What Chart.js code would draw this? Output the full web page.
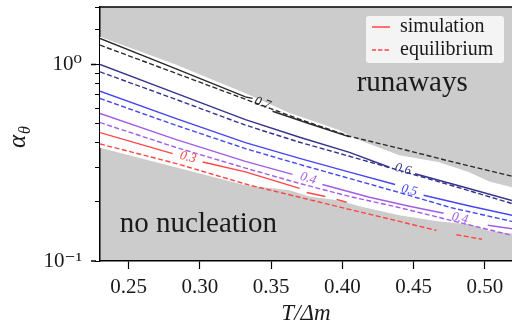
<!DOCTYPE html>
<html>
<head>
<meta charset="utf-8">
<style>
  html,body{margin:0;padding:0;background:#fff}
  #wrap{width:512px;height:330px;position:relative}
</style>
</head>
<body>
<div id="wrap"><canvas id="c"></canvas></div>
<script src="https://cdn.jsdelivr.net/npm/chart.js@4"></script>
<script>
// alpha_theta vs T/Dm : simulation (solid) vs equilibrium (dashed) contours

// white band = region where nucleation happens in the sims
const bandT   = [0.230, 0.283, 0.332, 0.363, 0.377, 0.398, 0.412, 0.440, 0.468, 0.489, 0.503, 0.519];
const bandTop = [1.382, 0.998, 0.714, 0.567, 0.523, 0.463, 0.411, 0.345, 0.318, 0.283, 0.254, 0.237];
const bandBot = [0.377, 0.300, 0.243, 0.229, 0.213, 0.203, 0.190, 0.171, 0.159, 0.154, 0.142, 0.138];

// equilibrium lines share one grid
const eqT   = [0.230, 0.283, 0.332, 0.370, 0.405, 0.440, 0.476, 0.519];
const eq07A = [1.254, 0.903, 0.665, 0.526, 0.431, 0.374, 0.321, 0.270];
const eq06A = [0.917, 0.665, 0.491, 0.402, 0.341, 0.289, 0.243, 0.196];
const eq05A = [0.671, 0.491, 0.373, 0.310, 0.263, 0.223, 0.187, 0.159];
const eq04A = [0.506, 0.379, 0.297, 0.248, 0.213, 0.187, 0.161, 0.135];
const eq03T = [0.230, 0.283, 0.335, 0.370, 0.405, 0.440, 0.466, null, 0.480, 0.498];
const eq03A = [0.394, 0.314, 0.243, 0.211, 0.183, 0.159, 0.143, null, 0.136, 0.129];

// simulation contours (null = break for label / missing piece)
const sim07T = [0.230, 0.283, 0.332, 0.337, null, 0.351, 0.377, 0.405];
const sim07A = [1.357, 0.952, 0.684, 0.672, null, 0.578, 0.499, 0.428];
const sim06T = [0.230, 0.283, 0.332, 0.370, 0.405, 0.433, null, 0.451, 0.483, 0.519];
const sim06A = [1.000, 0.714, 0.524, 0.426, 0.357, 0.300, null, 0.278, 0.240, 0.203];
const sim05T = [0.230, 0.283, 0.332, 0.370, 0.405, 0.437, null, 0.457, 0.490, 0.519];
const sim05A = [0.731, 0.532, 0.400, 0.333, 0.283, 0.245, null, 0.216, 0.190, 0.171];
const sim04T = [0.230, 0.283, 0.332, 0.365, null, 0.386, 0.419, 0.447, 0.471, null, 0.502, 0.519];
const sim04A = [0.563, 0.416, 0.321, 0.276, null, 0.245, 0.211, 0.190, 0.175, null, 0.152, 0.146];
const sim03T = [0.230, 0.281, null, 0.302, 0.332, 0.370, null, 0.375, 0.388, null, 0.396, 0.403];
const sim03A = [0.450, 0.352, null, 0.319, 0.284, 0.234, null, 0.223, 0.213, null, 0.206, 0.199];

// inline contour labels
const clabText = ['0.7', '0.6', '0.5', '0.4', '0.4', '0.3'];
const clabT    = [0.344, 0.4425, 0.447, 0.376, 0.4825, 0.2917];
const clabA    = [0.635, 0.293, 0.229, 0.263, 0.165, 0.337];

const regionText = ['runaways', 'no nucleation'];
const regionT    = [0.449, 0.299];
const regionA    = [0.800, 0.1535];

const xTicks = [0.25, 0.30, 0.35, 0.40, 0.45, 0.50];

const C = { k:'#2a2a2a', navy:'#34348c', blue:'#4646f2', purple:'#a35ce6', red:'#ff4646', gray:'#cccccc' };
const clabColor = [C.k, C.navy, C.blue, C.purple, C.purple, C.red];
const clabRot   = [20, 15, 14, 16, 13, 15];
const SERIF = '"Liberation Serif", "DejaVu Serif", serif';

function pts(ts, as){ return ts.map((t,i)=>({x:t, y:as[i]})); }

function serie(label, ts, as, color, dashed){
  return {
    label, data: pts(ts, as),
    borderColor: color, borderWidth: 1.4,
    borderDash: dashed ? [5, 2.5] : [],
    pointRadius: 0, fill: false, tension: 0, spanGaps: false
  };
}

const datasets = [
  { label:'band', data: pts(bandT, bandTop), borderWidth:0, borderColor:'rgba(0,0,0,0)',
    backgroundColor:'#ffffff', pointRadius:0, fill:'+1' },
  { label:'bandlow', data: pts(bandT, bandBot), borderWidth:0, borderColor:'rgba(0,0,0,0)',
    pointRadius:0, fill:false },
  serie('eq07', eqT, eq07A, C.k, true),
  serie('sim07', sim07T, sim07A, C.k, false),
  serie('eq06', eqT, eq06A, C.navy, true),
  serie('sim06', sim06T, sim06A, C.navy, false),
  serie('eq05', eqT, eq05A, C.blue, true),
  serie('sim05', sim05T, sim05A, C.blue, false),
  serie('eq04', eqT, eq04A, C.purple, true),
  serie('sim04', sim04T, sim04A, C.purple, false),
  serie('eq03', eq03T, eq03A, C.red, true),
  serie('sim03', sim03T, sim03A, C.red, false)
];

const isDecade = v => Math.abs(Math.log10(v) - Math.round(Math.log10(v))) < 1e-6;

const decor = {
  id: 'decor',
  afterLayout(chart){
    // legend sits inside the axes, top right
    const lg = chart.legend;
    if(!lg) return;
    lg.left = 369; lg.top = 14;
    lg.right = lg.left + lg.width; lg.bottom = lg.top + lg.height;
  },
  beforeDraw(chart){
    const {ctx, chartArea:a} = chart;
    ctx.save();
    ctx.fillStyle = C.gray;
    ctx.fillRect(a.left, a.top, a.right - a.left, a.bottom - a.top);
    const lg = chart.legend;
    ctx.fillStyle = '#f4f4f4';
    ctx.beginPath();
    ctx.roundRect(lg.left - 3, lg.top + 2, 138, 47, 3);
    ctx.fill();
    ctx.restore();
  },
  afterDatasetsDraw(chart){
    const {ctx, scales:{x, y}} = chart;
    ctx.save();
    ctx.textAlign = 'center';
    ctx.textBaseline = 'middle';
    clabText.forEach((t,i)=>{
      ctx.save();
      ctx.translate(x.getPixelForValue(clabT[i]), y.getPixelForValue(clabA[i]));
      ctx.rotate(clabRot[i] * Math.PI / 180);
      ctx.font = 'italic 13px ' + SERIF;
      ctx.fillStyle = clabColor[i];
      ctx.fillText(t, 0, 0);
      ctx.restore();
    });
    ctx.font = '29px ' + SERIF;
    ctx.fillStyle = '#1a1a1a';
    regionText.forEach((t,i)=>{
      ctx.fillText(t, x.getPixelForValue(regionT[i]), y.getPixelForValue(regionA[i]));
    });
    ctx.restore();
  },
  afterDraw(chart){
    const {ctx, chartArea:a, scales:{y}} = chart;
    ctx.save();
    ctx.strokeStyle = '#000';
    ctx.lineWidth = 1.5;
    ctx.beginPath();
    ctx.moveTo(a.left - 0.75, a.top); ctx.lineTo(a.right, a.top);
    // longer marks on the decades
    [0.1, 1].forEach(v=>{
      const py = y.getPixelForValue(v);
      ctx.moveTo(a.left - 9, py); ctx.lineTo(a.left - 4, py);
    });
    ctx.stroke();
    // y title alpha_theta
    ctx.translate(25, 148);
    ctx.rotate(-Math.PI / 2);
    ctx.fillStyle = '#1a1a1a';
    ctx.font = 'italic 25px ' + SERIF;
    ctx.textBaseline = 'alphabetic';
    ctx.fillText('α', 0, 0);
    const w = ctx.measureText('α').width;
    ctx.font = 'italic 16px ' + SERIF;
    ctx.fillText('θ', w + 1, 5);
    ctx.restore();
  }
};

new Chart(document.getElementById('c'), {
  type: 'line',
  data: { datasets },
  plugins: [decor],
  options: {
    responsive: true,
    maintainAspectRatio: false,
    animation: false,
    layout: { padding: { top: 7, right: 0, left: 0, bottom: 0 } },
    plugins: {
      filler: { drawTime: 'beforeDatasetsDraw' },
      tooltip: { enabled: false },
      legend: {
        position: 'chartArea',
        align: 'start',
        labels: {
          font: { family: SERIF, size: 20 },
          color: '#1a1a1a',
          boxWidth: 18, boxHeight: 0, padding: 3,
          generateLabels: () => [
            { text:'simulation', strokeStyle:C.red, fillStyle:'rgba(0,0,0,0)', lineWidth:1.5, lineDash:[], hidden:false, fontColor:'#1a1a1a' },
            { text:'equilibrium', strokeStyle:C.red, fillStyle:'rgba(0,0,0,0)', lineWidth:1.5, lineDash:[4, 2.5], hidden:false, fontColor:'#1a1a1a' }
          ]
        }
      }
    },
    scales: {
      x: {
        type: 'linear', min: 0.23, max: 0.519,
        afterFit: s => { s.height = 69; s.paddingLeft = 0; s.paddingRight = 0; },
        afterBuildTicks: s => { s.ticks = xTicks.map(v=>({value:v})); },
        grid: { drawOnChartArea: false, tickLength: 8, tickColor: '#000', tickWidth: 1.2 },
        border: { color: '#000', width: 1.5 },
        ticks: { font: { family: SERIF, size: 21 }, color: '#1a1a1a', padding: 6,
                 callback: v => v.toFixed(2) },
        title: { display: true, text: 'T/Δm', color: '#1a1a1a',
                 font: { family: SERIF, size: 23, style: 'italic' }, padding: { top: 0, bottom: 2 } }
      },
      y: {
        type: 'logarithmic', min: 0.1, max: 1.96,
        afterFit: s => { s.width = 100; s.paddingTop = 0; s.paddingBottom = 0; },
        grid: { drawOnChartArea: false, tickLength: 5, tickColor: '#000', tickWidth: 1 },
        border: { color: '#000', width: 1.5 },
        ticks: { font: { family: SERIF, size: 21 }, color: '#1a1a1a', padding: 13, autoSkip: false,
                 callback: v => !isDecade(v) ? '' : (Math.round(Math.log10(v)) === 0 ? '10⁰' : '10⁻¹') }
      }
    }
  }
});
</script>
</body>
</html>
